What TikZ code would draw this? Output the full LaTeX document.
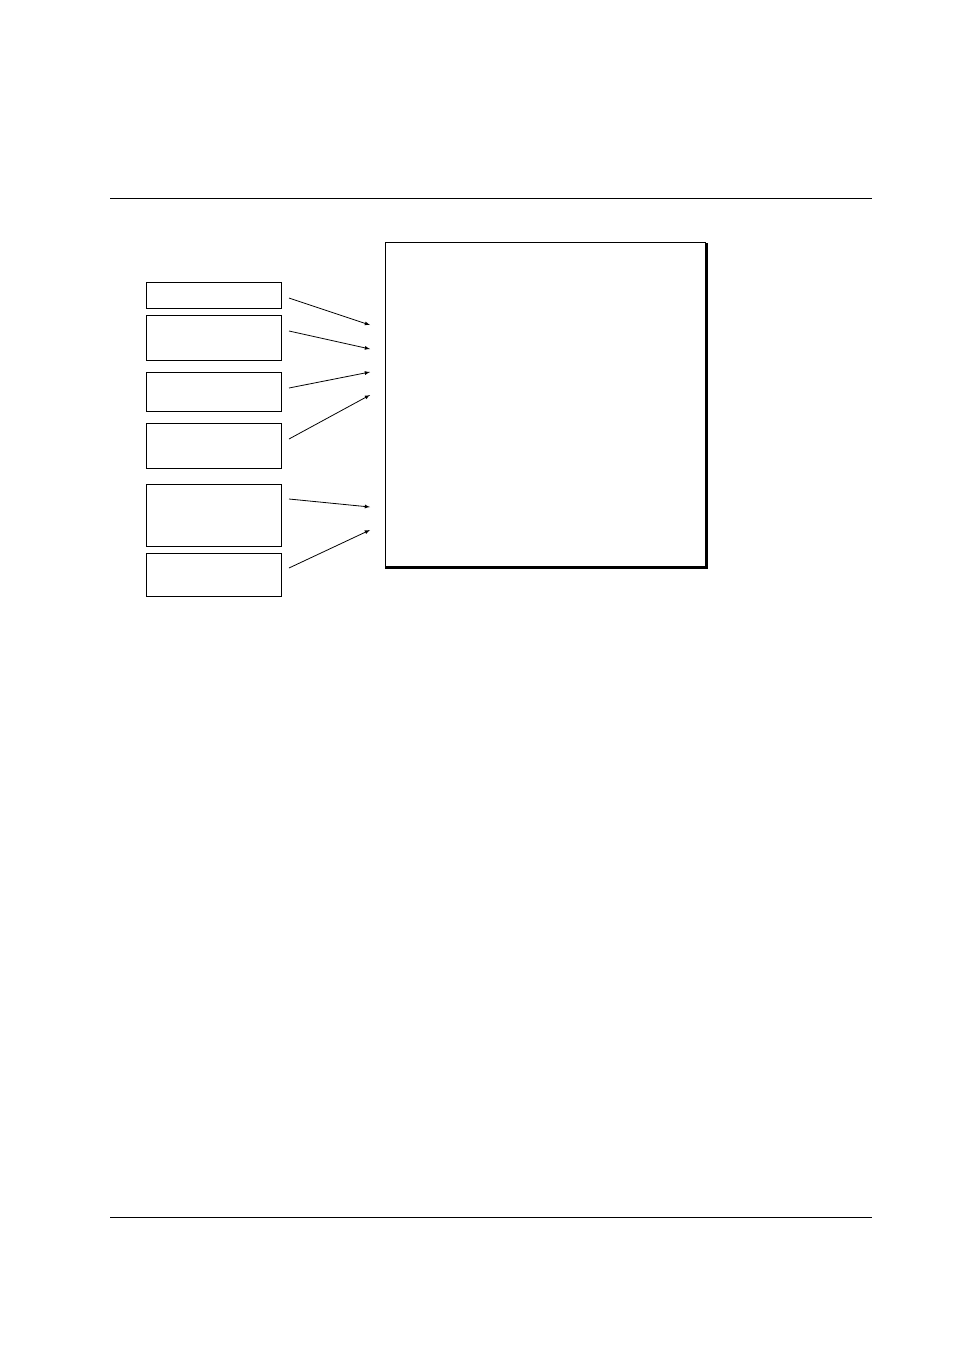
\documentclass[tikz,border=0pt]{standalone}
\usetikzlibrary{calc}
\tikzset{box/.style={draw,line width=1.4pt,inner sep=0pt,anchor=north west},
conn/.style={->,>=latex,line width=0.8pt}}
\begin{document}
\begin{tikzpicture}[x=1pt,y=-1pt]
\useasboundingbox (0,0) rectangle (954,1350);
\draw[line width=0.7pt] (110,198)--(872,198);
\draw[line width=0.7pt] (110,1217)--(872,1217);
% main box with shadow
\node[draw,line width=0.9pt,inner sep=0pt,minimum width=320pt,minimum height=324pt,anchor=north west] (main) at (385,242) {};
\draw[line width=1.6pt] ($(main.north east)+(0.8,1)$)--($(main.south east)+(0.8,0.8)$)--($(main.south west)+(0,0.8)$);
% input boxes
\foreach\n/\y/\h in {1/282/26,2/315/45,3/372/39,4/423/45,5/484/62,6/553/43} {
\node[box,minimum width=135pt,minimum height=\h pt] (b\n) at (146,\y) {};}
% arrows into main box
\foreach\n/\a/\b in {1/298/325,2/331/349,3/388/372,4/439/395,5/499/507,6/568/530} {
\coordinate (s\n) at (289,\a);
\coordinate (t\n) at (370,\b);
\draw[conn] (s\n)--(t\n);}
\end{tikzpicture}
\end{document}
